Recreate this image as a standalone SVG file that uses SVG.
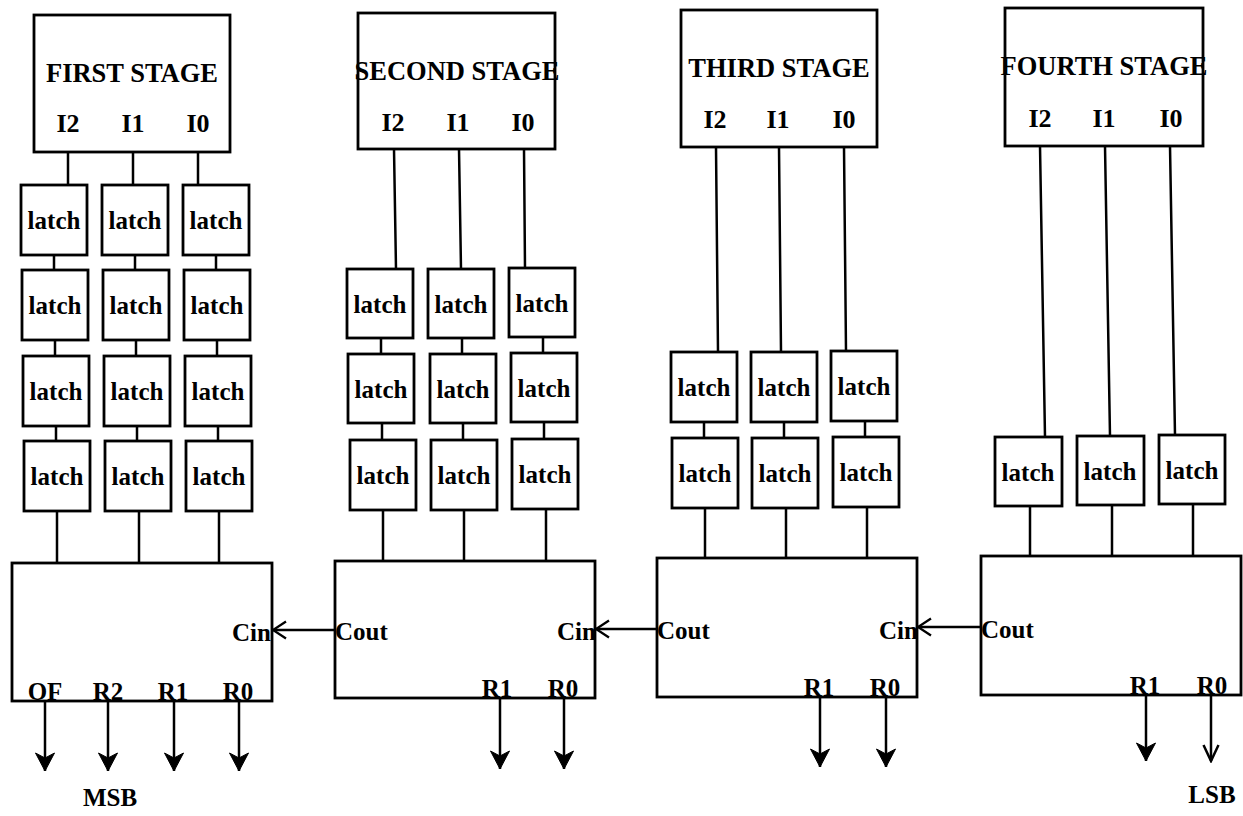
<svg xmlns="http://www.w3.org/2000/svg" width="1243" height="816" viewBox="0 0 1243 816">
<style>
text{font-family:"Liberation Serif","Times New Roman",serif;font-weight:bold;fill:#000}
.box{fill:#fff;stroke:#000;stroke-width:2.8}
.ln{fill:none;stroke:#000;stroke-width:2.5}
.title{font-size:26.5px;text-anchor:middle}
.lbl{font-size:25px;text-anchor:middle}
.io{font-size:26px;text-anchor:middle}
.lt{font-size:25px;text-anchor:middle}
.pin{font-size:25px}
</style>
<defs>
<marker id="down" markerUnits="userSpaceOnUse" orient="auto" viewBox="-21 -12 23 24" refX="0" refY="0" markerWidth="23" markerHeight="24">
<path d="M0,0 L-18,-9.5 L-13,0 L-18,9.5 Z" fill="#000" stroke="#000" stroke-width="1" stroke-linejoin="round"/>
</marker>
<marker id="vopen" markerUnits="userSpaceOnUse" orient="auto" viewBox="-20 -11 22 22" refX="0" refY="0" markerWidth="22" markerHeight="22">
<path d="M-16,-7.5 L0,0 L-16,7.5" fill="none" stroke="#000" stroke-width="2.5"/>
</marker>
<marker id="chev" markerUnits="userSpaceOnUse" orient="auto" viewBox="-16 -11 18 22" refX="0" refY="0" markerWidth="18" markerHeight="22">
<path d="M-13,-8.5 L0,0 L-13,8.5" fill="none" stroke="#000" stroke-width="2.3"/>
</marker>
</defs>

<g id="connectors">
<path class="ln" d="M68,152V185M133,152V185M198,152V185"/>
<path class="ln" d="M54,255V270M135,255V270M216,255V270M55,340V356M136,340V356M217,340V356M56,426V441M137,426V441M218,426V441"/>
<path class="ln" d="M57,511V563M139,511V563M219,511V563"/>
<path class="ln" d="M394,149L396,269M459,149L461,269M524,149L525,268"/>
<path class="ln" d="M381,338V354M462,338V354M543,337V353M382,423V440M463,423V440M544,422V439"/>
<path class="ln" d="M383,510V561M464,510V561M546,509V561"/>
<path class="ln" d="M716,147L718,352M779,147L781,352M844,147L846,351"/>
<path class="ln" d="M704,422V438M784,422V438M865,421V437"/>
<path class="ln" d="M705,508V558M786,508V558M867,507V558"/>
<path class="ln" d="M1040,146L1045,437M1105,146L1110,436M1170,146L1175,435"/>
<path class="ln" d="M1030,506V556M1112,505V556M1193,504V556"/>
<line class="ln" x1="335" y1="630" x2="273" y2="630" marker-end="url(#chev)"/>
<line class="ln" x1="657" y1="629" x2="596" y2="629" marker-end="url(#chev)"/>
<line class="ln" x1="981" y1="627" x2="918" y2="627" marker-end="url(#chev)"/>
<line class="ln" x1="45" y1="701" x2="45" y2="771" marker-end="url(#down)"/>
<line class="ln" x1="108" y1="701" x2="108" y2="771" marker-end="url(#down)"/>
<line class="ln" x1="174" y1="701" x2="174" y2="771" marker-end="url(#down)"/>
<line class="ln" x1="239" y1="701" x2="239" y2="771" marker-end="url(#down)"/>
<line class="ln" x1="500" y1="698" x2="500" y2="769" marker-end="url(#down)"/>
<line class="ln" x1="564" y1="698" x2="564" y2="769" marker-end="url(#down)"/>
<line class="ln" x1="820" y1="697" x2="820" y2="767" marker-end="url(#down)"/>
<line class="ln" x1="886" y1="697" x2="886" y2="767" marker-end="url(#down)"/>
<line class="ln" x1="1146" y1="695" x2="1146" y2="761" marker-end="url(#down)"/>
<line class="ln" x1="1211" y1="695" x2="1211" y2="761" marker-end="url(#vopen)"/>
</g>

<g id="stage1"><rect class="box" x="34" y="15" width="196" height="137"/><text class="title" x="132" y="82">FIRST STAGE</text><text class="io" x="68" y="132">I2</text><text class="io" x="133" y="132">I1</text><text class="io" x="198" y="132">I0</text></g>
<g id="stage2"><rect class="box" x="358" y="13" width="197" height="136"/><text class="title" x="457" y="80">SECOND STAGE</text><text class="io" x="393" y="131">I2</text><text class="io" x="458" y="131">I1</text><text class="io" x="523" y="131">I0</text></g>
<g id="stage3"><rect class="box" x="681" y="10" width="196" height="137"/><text class="title" x="779" y="77">THIRD STAGE</text><text class="io" x="715" y="128">I2</text><text class="io" x="778" y="128">I1</text><text class="io" x="844" y="128">I0</text></g>
<g id="stage4"><rect class="box" x="1005" y="8" width="198" height="138"/><text class="title" x="1104" y="75">FOURTH STAGE</text><text class="io" x="1040" y="127">I2</text><text class="io" x="1104" y="127">I1</text><text class="io" x="1171" y="127">I0</text></g>

<g id="l1-1-1"><rect class="box" x="21" y="185" width="66" height="70"/><text class="lt" x="54" y="229">latch</text></g>
<g id="l1-1-2"><rect class="box" x="102" y="185" width="66" height="70"/><text class="lt" x="135" y="229">latch</text></g>
<g id="l1-1-3"><rect class="box" x="183" y="185" width="66" height="70"/><text class="lt" x="216" y="229">latch</text></g>
<g id="l1-2-1"><rect class="box" x="22" y="270" width="66" height="70"/><text class="lt" x="55" y="314">latch</text></g>
<g id="l1-2-2"><rect class="box" x="103" y="270" width="66" height="70"/><text class="lt" x="136" y="314">latch</text></g>
<g id="l1-2-3"><rect class="box" x="184" y="270" width="66" height="70"/><text class="lt" x="217" y="314">latch</text></g>
<g id="l1-3-1"><rect class="box" x="23" y="356" width="66" height="70"/><text class="lt" x="56" y="400">latch</text></g>
<g id="l1-3-2"><rect class="box" x="104" y="356" width="66" height="70"/><text class="lt" x="137" y="400">latch</text></g>
<g id="l1-3-3"><rect class="box" x="185" y="356" width="66" height="70"/><text class="lt" x="218" y="400">latch</text></g>
<g id="l1-4-1"><rect class="box" x="24" y="441" width="66" height="70"/><text class="lt" x="57" y="485">latch</text></g>
<g id="l1-4-2"><rect class="box" x="105" y="441" width="66" height="70"/><text class="lt" x="138" y="485">latch</text></g>
<g id="l1-4-3"><rect class="box" x="186" y="441" width="66" height="70"/><text class="lt" x="219" y="485">latch</text></g>

<g id="l2-1-1"><rect class="box" x="347" y="269" width="66" height="69"/><text class="lt" x="380" y="313">latch</text></g>
<g id="l2-1-2"><rect class="box" x="428" y="269" width="66" height="69"/><text class="lt" x="461" y="313">latch</text></g>
<g id="l2-1-3"><rect class="box" x="509" y="268" width="66" height="69"/><text class="lt" x="542" y="312">latch</text></g>
<g id="l2-2-1"><rect class="box" x="348" y="354" width="66" height="69"/><text class="lt" x="381" y="398">latch</text></g>
<g id="l2-2-2"><rect class="box" x="430" y="354" width="66" height="69"/><text class="lt" x="463" y="398">latch</text></g>
<g id="l2-2-3"><rect class="box" x="511" y="353" width="66" height="69"/><text class="lt" x="544" y="397">latch</text></g>
<g id="l2-3-1"><rect class="box" x="350" y="440" width="66" height="70"/><text class="lt" x="383" y="484">latch</text></g>
<g id="l2-3-2"><rect class="box" x="431" y="440" width="66" height="70"/><text class="lt" x="464" y="484">latch</text></g>
<g id="l2-3-3"><rect class="box" x="512" y="439" width="66" height="70"/><text class="lt" x="545" y="483">latch</text></g>

<g id="l3-1-1"><rect class="box" x="671" y="352" width="66" height="70"/><text class="lt" x="704" y="396">latch</text></g>
<g id="l3-1-2"><rect class="box" x="751" y="352" width="66" height="70"/><text class="lt" x="784" y="396">latch</text></g>
<g id="l3-1-3"><rect class="box" x="831" y="351" width="66" height="70"/><text class="lt" x="864" y="395">latch</text></g>
<g id="l3-2-1"><rect class="box" x="672" y="438" width="66" height="70"/><text class="lt" x="705" y="482">latch</text></g>
<g id="l3-2-2"><rect class="box" x="752" y="438" width="66" height="70"/><text class="lt" x="785" y="482">latch</text></g>
<g id="l3-2-3"><rect class="box" x="833" y="437" width="66" height="70"/><text class="lt" x="866" y="481">latch</text></g>

<g id="l4-1-1"><rect class="box" x="995" y="437" width="67" height="69"/><text class="lt" x="1028" y="481">latch</text></g>
<g id="l4-1-2"><rect class="box" x="1077" y="436" width="67" height="69"/><text class="lt" x="1110" y="480">latch</text></g>
<g id="l4-1-3"><rect class="box" x="1159" y="435" width="66" height="69"/><text class="lt" x="1192" y="479">latch</text></g>

<g id="adder1"><rect class="box" x="12" y="563" width="260" height="138"/><text class="pin" x="232" y="641">Cin</text><text class="lbl" x="45" y="700">OF</text><text class="lbl" x="108" y="700">R2</text><text class="lbl" x="173" y="700">R1</text><text class="lbl" x="238" y="700">R0</text></g>
<g id="adder2"><rect class="box" x="335" y="561" width="260" height="137"/><text class="pin" x="335" y="640">Cout</text><text class="pin" x="557" y="640">Cin</text><text class="lbl" x="497" y="697">R1</text><text class="lbl" x="563" y="697">R0</text></g>
<g id="adder3"><rect class="box" x="657" y="558" width="260" height="139"/><text class="pin" x="657" y="639">Cout</text><text class="pin" x="879" y="639">Cin</text><text class="lbl" x="819" y="696">R1</text><text class="lbl" x="885" y="696">R0</text></g>
<g id="adder4"><rect class="box" x="981" y="556" width="260" height="139"/><text class="pin" x="981" y="638">Cout</text><text class="lbl" x="1145" y="694">R1</text><text class="lbl" x="1212" y="694">R0</text></g>

<g id="labels"><text class="lbl" x="110" y="806">MSB</text><text class="lbl" x="1212" y="803">LSB</text></g>
</svg>
